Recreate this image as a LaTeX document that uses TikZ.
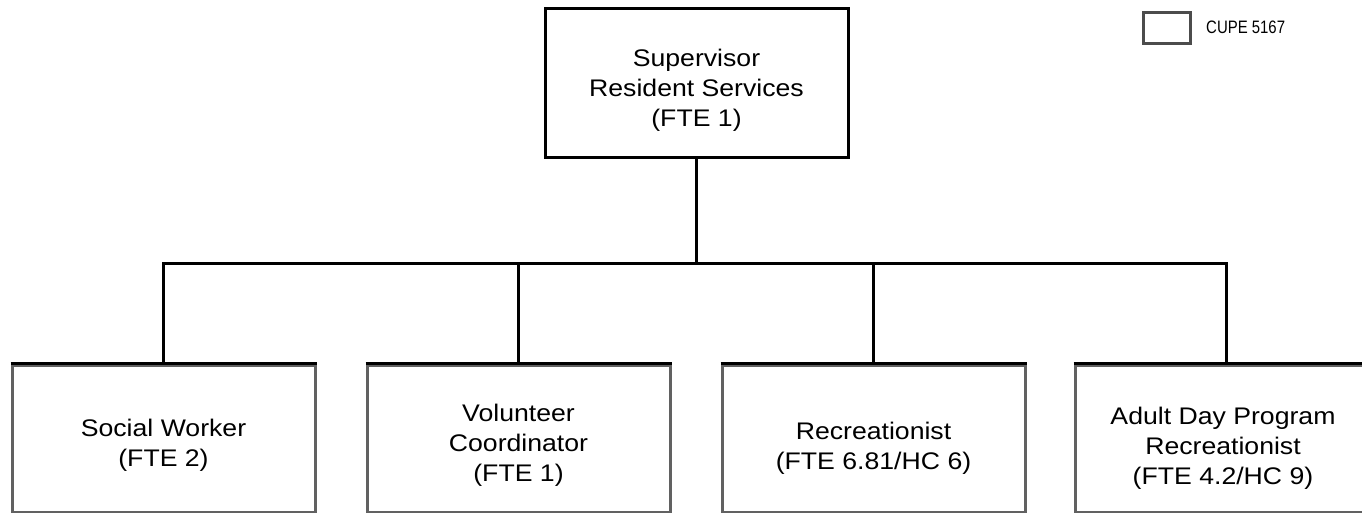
\documentclass[tikz,border=0pt]{standalone}
\usepackage{fontspec}
\setmainfont{Liberation Sans}[FakeStretch=1.11]
\newfontfamily\legendfont{Liberation Sans}[FakeStretch=0.83]
\begin{document}
\begin{tikzpicture}[x=1pt,y=-1pt,
  topbox/.style={draw=black,line width=3pt,rectangle,minimum width=303pt,minimum height=149pt,inner sep=0pt},
  subbox/.style={draw=black!62,line width=3pt,rectangle,minimum width=303pt,minimum height=147pt,inner sep=0pt},
  lbl/.style={align=center,font=\fontsize{24}{30}\selectfont,inner sep=0pt},
  conn/.style={draw=black,line width=3pt}]
\useasboundingbox (0,0) rectangle (1362,512);
% top box
\node[topbox] (sup) at (696.5,82.5) {};
\node[lbl] (supt) at (696.5,90) {Supervisor\\Resident Services\\(FTE 1)};
% bottom boxes
\node[subbox] (sw)  at (163.5,438.5) {};
\node[subbox] (vc)  at (518.5,438.5) {};
\node[subbox] (rec) at (873.5,438.5) {};
\node[subbox] (adp) at (1226.5,438.5) {};
\foreach \n in {sw,vc,rec,adp}{
  \draw[black,line width=3pt] (\n.north west) -- (\n.north east);
  \draw[black,line width=2pt] (\n.south west) -- (\n.south east);
}
\node[lbl] (swt)  at (163.5,445) {Social Worker\\(FTE 2)};
\node[lbl] (vct)  at (518.5,445) {Volunteer\\Coordinator\\(FTE 1)};
\node[lbl] (rect) at (873.5,448) {Recreationist\\(FTE 6.81/HC 6)};
\node[lbl] (adpt) at (1223,448) {Adult Day Program\\Recreationist\\(FTE 4.2/HC 9)};
% connectors
\coordinate (bus) at (696.5,263);
\draw[conn] (sup.south) -- (bus);
\draw[conn] (sw.north) |- (bus) -| (adp.north);
\draw[conn] (vc.north) -- (vc.north |- bus);
\draw[conn] (rec.north) -- (rec.north |- bus);
% legend
\node[draw=black!70,line width=3pt,rectangle,minimum width=47pt,minimum height=31pt,inner sep=0pt] (leg) at (1167,27.5) {};
\node[anchor=west,inner sep=0pt,font=\legendfont\fontsize{18}{20}\selectfont] (legt) at (1206,27.5) {CUPE 5167};
\end{tikzpicture}
\end{document}
